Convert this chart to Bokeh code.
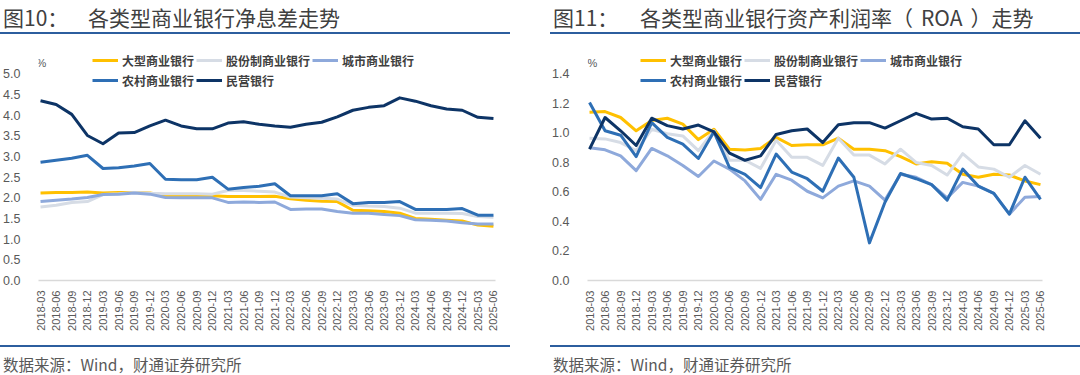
import math
from bokeh.plotting import figure
from bokeh.models import Div, Legend, LegendItem, Label, FixedTicker, Range1d, NumeralTickFormatter
from bokeh.layouts import row, column
from bokeh.embed import file_html
from bokeh.resources import INLINE

# ---------------- data ----------------
quarters = ["2018-03", "2018-06", "2018-09", "2018-12",
            "2019-03", "2019-06", "2019-09", "2019-12",
            "2020-03", "2020-06", "2020-09", "2020-12",
            "2021-03", "2021-06", "2021-09", "2021-12",
            "2022-03", "2022-06", "2022-09", "2022-12",
            "2023-03", "2023-06", "2023-09", "2023-12",
            "2024-03", "2024-06", "2024-09", "2024-12",
            "2025-03", "2025-06"]

series_names = ["大型商业银行", "股份制商业银行", "城市商业银行", "农村商业银行", "民营银行"]

# 净息差 (%)
nim_large = [2.12, 2.13, 2.13, 2.14, 2.12, 2.13, 2.13, 2.12, 2.06, 2.05, 2.04, 2.05,
             2.03, 2.03, 2.03, 2.04, 1.98, 1.94, 1.92, 1.91, 1.70, 1.69, 1.67, 1.63,
             1.50, 1.48, 1.46, 1.44, 1.34, 1.31]
nim_joint = [1.78, 1.82, 1.89, 1.91, 2.08, 2.10, 2.13, 2.11, 2.10, 2.10, 2.10, 2.09,
             2.18, 2.18, 2.16, 2.14, 2.02, 2.00, 1.99, 1.97, 1.82, 1.80, 1.79, 1.75,
             1.63, 1.63, 1.63, 1.62, 1.55, 1.53]
nim_city = [1.91, 1.94, 1.97, 2.01, 2.08, 2.09, 2.12, 2.09, 2.01, 2.00, 2.00, 2.00,
            1.89, 1.90, 1.89, 1.90, 1.72, 1.73, 1.73, 1.67, 1.63, 1.63, 1.60, 1.57,
            1.47, 1.46, 1.44, 1.40, 1.37, 1.37]
nim_rural = [2.86, 2.91, 2.96, 3.03, 2.71, 2.73, 2.77, 2.83, 2.45, 2.44, 2.44, 2.50,
             2.21, 2.25, 2.28, 2.34, 2.05, 2.05, 2.05, 2.10, 1.86, 1.89, 1.89, 1.91,
             1.72, 1.72, 1.72, 1.74, 1.58, 1.58]
nim_private = [4.35, 4.26, 4.02, 3.51, 3.31, 3.57, 3.58, 3.74, 3.88, 3.74, 3.67, 3.67,
               3.81, 3.84, 3.78, 3.74, 3.71, 3.78, 3.83, 3.96, 4.12, 4.19, 4.23, 4.42,
               4.34, 4.23, 4.15, 4.12, 3.95, 3.92]

# 资产利润率 ROA (%)
roa_large = [1.14, 1.145, 1.105, 1.015, 1.085, 1.10, 1.06, 0.955, 1.025, 0.89, 0.885, 0.895,
             0.97, 0.915, 0.92, 0.92, 0.965, 0.89, 0.89, 0.88, 0.84, 0.79, 0.805, 0.795,
             0.72, 0.70, 0.72, 0.715, 0.675, 0.65]
roa_joint = [0.965, 0.96, 0.935, 0.88, 1.025, 0.995, 0.98, 0.88, 1.015, 0.815, 0.815, 0.76,
             0.95, 0.835, 0.835, 0.78, 0.965, 0.85, 0.85, 0.79, 0.89, 0.80, 0.78, 0.715,
             0.86, 0.77, 0.755, 0.70, 0.78, 0.72]
roa_city = [0.90, 0.886, 0.845, 0.745, 0.895, 0.845, 0.78, 0.705, 0.81, 0.755, 0.675, 0.55,
            0.72, 0.68, 0.605, 0.56, 0.64, 0.675, 0.64, 0.545, 0.72, 0.70, 0.65, 0.56,
            0.665, 0.64, 0.59, 0.45, 0.565, 0.57]
roa_rural = [1.207, 1.015, 0.985, 0.84, 1.07, 0.97, 0.925, 0.827, 1.008, 0.766, 0.72, 0.63,
             0.857, 0.735, 0.69, 0.605, 0.83, 0.70, 0.255, 0.53, 0.725, 0.69, 0.65, 0.545,
             0.755, 0.64, 0.59, 0.45, 0.70, 0.55]
roa_private = [0.89, 1.105, 1.015, 0.915, 1.10, 1.05, 1.027, 1.054, 1.008, 0.863, 0.815, 0.845,
               0.99, 1.015, 1.027, 0.935, 1.056, 1.07, 1.07, 1.033, 1.083, 1.133, 1.094, 1.10,
               1.042, 1.027, 0.92, 0.92, 1.083, 0.965]

nim_ticks = [0.0, 0.5, 1.0, 1.5, 2.0, 2.5, 3.0, 3.5, 4.0, 4.5, 5.0]
roa_ticks = [0.0, 0.2, 0.4, 0.6, 0.8, 1.0, 1.2, 1.4]

# ---------------- style ----------------
colors = ["#FFC000", "#D6DCE5", "#8EA9DB", "#2E6FB5", "#0D3466"]
RULE = "#2C5E9E"
TXT = "#595959"
CJK = "Noto Sans CJK SC"


def make_panel(prefix, title_html, prefix_w, pad_left, line_w, series, yend, yticks,
               border_left, border_right, legend_x, pct_x):
    title_div = Div(
        text=(f'<div style="margin-left:{pad_left}px;width:{line_w}px;height:34px;'
              f'border-bottom:2px solid {RULE};font-family:\'{CJK}\';font-size:21px;'
              f'color:#404040;line-height:34px;white-space:nowrap;overflow:hidden;">'
              f'<span style="display:inline-block;width:{prefix_w}px;padding-left:3px;box-sizing:border-box;">{prefix}</span>'
              f'{title_html}</div>'),
        width=540, height=36, margin=0)

    p = figure(width=540, height=309, output_backend="svg", toolbar_location=None,
               x_range=Range1d(-0.13, 29.13), y_range=Range1d(0, yend),
               min_border_left=border_left, min_border_right=border_right,
               min_border_top=9, min_border_bottom=65)
    p.outline_line_color = None
    p.grid.visible = False
    p.background_fill_color = "white"
    p.border_fill_color = "white"

    p.yaxis.ticker = FixedTicker(ticks=yticks)
    p.yaxis.formatter = NumeralTickFormatter(format="0.0")
    p.yaxis.axis_line_color = None
    p.yaxis.major_tick_line_color = None
    p.yaxis.minor_tick_line_color = None
    p.yaxis.major_label_standoff = 12
    p.yaxis.major_label_text_font_size = "12.5px"
    p.yaxis.major_label_text_color = TXT
    p.yaxis.major_label_text_font = "Liberation Sans"

    xs = list(range(len(quarters)))
    p.xaxis.ticker = FixedTicker(ticks=xs)
    p.xaxis.major_label_overrides = {i: q for i, q in enumerate(quarters)}
    p.xaxis.major_label_orientation = math.pi / 2
    p.xaxis.axis_line_color = "#D9D9D9"
    p.xaxis.axis_line_width = 1.5
    p.xaxis.major_tick_line_color = None
    p.xaxis.minor_tick_line_color = None
    p.xaxis.major_label_standoff = 4
    p.xaxis.major_label_text_font_size = "11px"
    p.xaxis.major_label_text_color = TXT
    p.xaxis.major_label_text_font = "Liberation Sans"

    items = []
    for name, vals, c in zip(series_names, series, colors):
        r = p.line(xs, vals, line_width=3, color=c, line_join="round")
        items.append(LegendItem(label=name, renderers=[r]))

    legend = Legend(items=items, location=(legend_x, 191), orientation="horizontal", ncols=3,
                    label_text_font=CJK, label_text_font_size="12px", label_text_font_style="bold",
                    label_text_color="#404040", glyph_width=26, glyph_height=18, label_height=18,
                    label_standoff=4, spacing=2, padding=0, margin=0,
                    background_fill_alpha=0, border_line_color=None)
    p.add_layout(legend, "center")

    p.add_layout(Label(x=pct_x, y=218, x_units="screen", y_units="screen", text="%",
                       text_align="center", text_baseline="middle", text_font_size="11px",
                       text_color=TXT, text_font="Liberation Sans"))

    src_div = Div(
        text=(f'<div style="margin-left:{pad_left}px;width:{line_w}px;height:30px;box-sizing:border-box;'
              f'border-top:2px solid {RULE};font-family:\'{CJK}\';font-size:15.5px;color:{TXT};'
              f'line-height:22px;padding-top:6px;padding-left:3px;white-space:nowrap;">'
              f'数据来源：Wind，财通证券研究所</div>'),
        width=540, height=30, margin=0)
    return column(title_div, p, src_div, spacing=0)


left = make_panel("图10：", "各类型商业银行净息差走势", 88, 0, 510,
                  [nim_large, nim_joint, nim_city, nim_rural, nim_private],
                  5.687, nim_ticks, 38, 45, 54, 3)
right = make_panel("图11：",
                   '各类型商业银行资产利润率（<span style="padding:0 8px;">ROA</span>）走势',
                   90, 10, 530,
                   [roa_large, roa_joint, roa_city, roa_rural, roa_private],
                   1.593, roa_ticks, 47, 38, 53, 5)

layout = row(left, right, spacing=0)
open("out.html", "w").write(file_html(layout, INLINE))
